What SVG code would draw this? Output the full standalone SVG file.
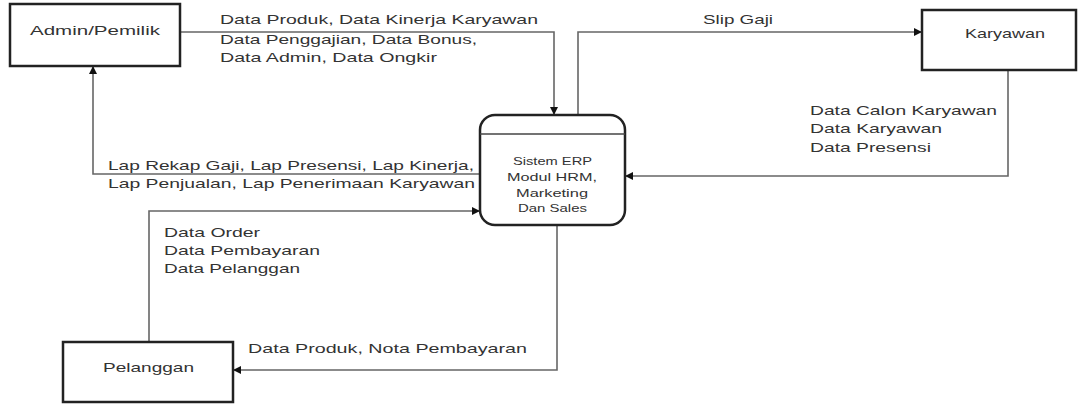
<svg xmlns="http://www.w3.org/2000/svg" width="1085" height="405" viewBox="0 0 1085 405">
<style>
.box{fill:#fff;stroke:#222;stroke-width:2.5}
.conn{fill:none;stroke:#666;stroke-width:1.6}
text{font-family:"Liberation Sans",Arial,sans-serif;font-size:13px;fill:#333}
.small{font-size:11px}
</style>
<defs>
<marker id="arr" viewBox="0 0 10 10" refX="10" refY="5" markerWidth="8" markerHeight="8" markerUnits="userSpaceOnUse" orient="auto">
<path d="M0,0 L10,5 L0,10 z" fill="#111"/>
</marker>
</defs>
<rect width="1085" height="405" fill="#fff"/>
<g id="connectors">
<polyline class="conn" points="180,32 554,32 554,115" marker-end="url(#arr)"/>
<polyline class="conn" points="578,115 578,32 922,32" marker-end="url(#arr)"/>
<polyline class="conn" points="1008,70 1008,176 625,176" marker-end="url(#arr)"/>
<polyline class="conn" points="480,174 93,174 93,66" marker-end="url(#arr)"/>
<polyline class="conn" points="149,342 149,211 480,211" marker-end="url(#arr)"/>
<polyline class="conn" points="557,225 557,370 233,370" marker-end="url(#arr)"/>
<text x="220" y="23.5" textLength="318" lengthAdjust="spacingAndGlyphs">Data Produk, Data Kinerja Karyawan</text>
<text x="220" y="43.5" textLength="257" lengthAdjust="spacingAndGlyphs">Data Penggajian, Data Bonus,</text>
<text x="220" y="61.5" textLength="217" lengthAdjust="spacingAndGlyphs">Data Admin, Data Ongkir</text>
<text x="703" y="23.5" textLength="70" lengthAdjust="spacingAndGlyphs">Slip Gaji</text>
<text x="810" y="114.5" textLength="187" lengthAdjust="spacingAndGlyphs">Data Calon Karyawan</text>
<text x="810" y="132.5" textLength="132" lengthAdjust="spacingAndGlyphs">Data Karyawan</text>
<text x="810" y="151.5" textLength="121" lengthAdjust="spacingAndGlyphs">Data Presensi</text>
<text x="108" y="169.5" textLength="366" lengthAdjust="spacingAndGlyphs">Lap Rekap Gaji, Lap Presensi, Lap Kinerja,</text>
<text x="108" y="187.5" textLength="367" lengthAdjust="spacingAndGlyphs">Lap Penjualan, Lap Penerimaan Karyawan</text>
<text x="164" y="236.5" textLength="96" lengthAdjust="spacingAndGlyphs">Data Order</text>
<text x="164" y="254.5" textLength="156" lengthAdjust="spacingAndGlyphs">Data Pembayaran</text>
<text x="164" y="272.5" textLength="136" lengthAdjust="spacingAndGlyphs">Data Pelanggan</text>
<text x="248" y="352.5" textLength="279" lengthAdjust="spacingAndGlyphs">Data Produk, Nota Pembayaran</text>
</g>
<g id="admin">
<rect class="box" x="10" y="4" width="170" height="62"/>
<text x="30" y="34.5" textLength="130" lengthAdjust="spacingAndGlyphs">Admin/Pemilik</text>
</g>
<g id="karyawan">
<rect class="box" x="922" y="10" width="154" height="60"/>
<text x="965" y="37.5" textLength="80" lengthAdjust="spacingAndGlyphs">Karyawan</text>
</g>
<g id="pelanggan">
<rect class="box" x="63" y="342" width="170" height="60"/>
<text x="103" y="371.5" textLength="91" lengthAdjust="spacingAndGlyphs">Pelanggan</text>
</g>
<g id="erp">
<rect class="box" x="480" y="115" width="145" height="110" rx="15" ry="15"/>
<line x1="480" y1="134" x2="625" y2="134" stroke="#444" stroke-width="1.5"/>
<text class="small" x="513" y="165" textLength="79" lengthAdjust="spacingAndGlyphs">Sistem ERP</text>
<text class="small" x="507" y="181" textLength="90" lengthAdjust="spacingAndGlyphs">Modul HRM,</text>
<text class="small" x="516" y="197" textLength="72" lengthAdjust="spacingAndGlyphs">Marketing</text>
<text class="small" x="518" y="212" textLength="69" lengthAdjust="spacingAndGlyphs">Dan Sales</text>
</g>
</svg>
